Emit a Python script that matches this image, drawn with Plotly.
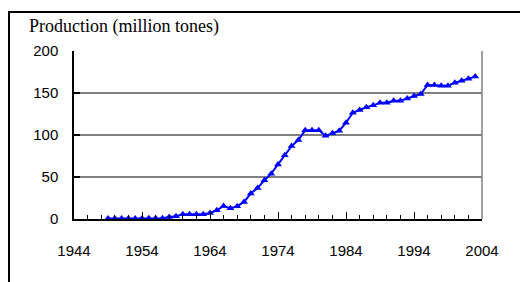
import plotly.graph_objects as go

years = list(range(1949, 2004))
production = [0.5, 0.5, 0.6, 0.6, 0.7, 0.7, 0.8, 0.9, 1.0, 2.4, 3.2,
              5.6, 5.6, 5.6, 5.6, 7.2, 10.4, 15.5, 12.8, 15.2, 20.3,
              30.3, 37.0, 46.0, 54.0, 65.0, 76.0, 86.8, 94.0, 105.8, 105.8,
              105.8, 99.0, 102.0, 105.0, 114.6, 126.5, 129.7, 133.0, 135.3, 138.4,
              138.4, 140.8, 140.8, 143.6, 146.4, 148.8, 159.5, 159.5, 158.7, 158.7,
              162.3, 164.7, 167.0, 169.5]
title_text = "Production (million tones)"

# page body has an 8px margin; work in page pixels and shift
OFF = 8
W, H = 528 - OFF, 282 - OFF
L, R, T, B = 74 - OFF, 482 - OFF, 51 - OFF, 218.7 - OFF

fig = go.Figure()
fig.add_trace(go.Scatter(
    x=years, y=production, mode="lines+markers",
    line=dict(color="#0000FF", width=2),
    marker=dict(symbol="triangle-up", size=7, color="#0000FF"),
    showlegend=False, cliponaxis=False,
))

def px_x(p):
    return (p - OFF - L) / (R - L)

def px_y(p):
    return (B - (p - OFF)) / (B - T)

shapes = [
    dict(type="line", xref="paper", yref="paper", x0=1, x1=1, y0=0, y1=1,
         line=dict(color="#808080", width=1.5)),
    dict(type="line", xref="paper", yref="paper", x0=px_x(8), x1=px_x(530),
         y0=px_y(12), y1=px_y(12), line=dict(color="black", width=2)),
    dict(type="line", xref="paper", yref="paper", x0=px_x(9), x1=px_x(9),
         y0=px_y(11), y1=px_y(284), line=dict(color="black", width=2)),
]

fig.update_layout(
    width=W, height=H, autosize=False,
    margin=dict(l=L, r=W - R, t=T, b=H - B, pad=0),
    paper_bgcolor="white", plot_bgcolor="white",
    font=dict(family="Liberation Sans, Arial, sans-serif", size=15, color="black"),
    shapes=shapes,
    annotations=[dict(
        text=title_text, xref="paper", yref="paper",
        x=px_x(27), y=px_y(27), xanchor="left", yanchor="middle",
        showarrow=False,
        font=dict(family="Liberation Serif, Times New Roman, serif", size=18, color="black"),
    )],
)

fig.update_xaxes(
    range=[1944, 2004], tick0=1944, dtick=10,
    showgrid=False, zeroline=False,
    showline=True, linecolor="black", linewidth=2,
    ticks="inside", ticklen=7, tickcolor="black", tickwidth=1,
    minor=dict(dtick=2, tick0=1944, ticks="inside", ticklen=4, tickcolor="black", tickwidth=1, showgrid=False),
    tickfont=dict(size=15), fixedrange=True, ticklabelstandoff=17,
)
fig.update_yaxes(
    range=[0, 200], tick0=0, dtick=50,
    showgrid=True, gridcolor="#808080", gridwidth=1.5,
    zeroline=False,
    showline=True, linecolor="black", linewidth=1.5,
    ticks="inside", ticklen=6, tickcolor="black", tickwidth=1.5,
    tickfont=dict(size=15), fixedrange=True, ticklabelstandoff=11,
)

fig.write_html("out.html")
